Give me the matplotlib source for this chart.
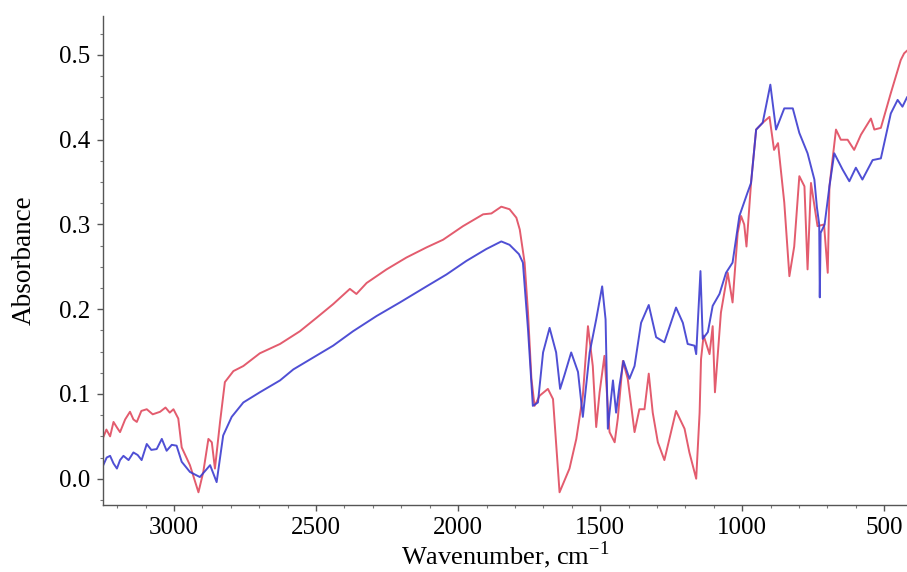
import numpy as np
import matplotlib as mpl
mpl.use("Agg")
import matplotlib.pyplot as plt
from matplotlib.ticker import MultipleLocator

# spectrum (wavenumber, absorbance)
red_wn = [3249, 3238, 3225, 3213, 3200, 3190, 3172, 3155, 3143, 3131, 3115, 3096, 3075,
          3049, 3030, 3015, 3002, 2985, 2973, 2944, 2914, 2897,
          2879, 2867, 2856, 2838, 2821, 2791, 2756, 2698, 2627, 2557, 2498, 2440, 2381,
          2358, 2322, 2252, 2182, 2111, 2053, 1983, 1912, 1883, 1848, 1819, 1795, 1783,
          1766, 1754, 1742, 1731, 1713, 1684, 1666, 1643, 1608, 1584, 1561, 1543, 1526,
          1514, 1502, 1485, 1467, 1449, 1438, 1420, 1403, 1379, 1362, 1344, 1329, 1315,
          1297, 1274, 1233, 1203, 1186, 1162, 1150, 1145, 1136, 1115, 1104, 1096, 1075,
          1051, 1034, 1016, 1004, 993, 985, 969, 951, 928, 904, 888, 874, 852, 834, 817,
          799, 781, 770, 758, 735, 712, 699, 693, 670, 653, 629, 606, 582, 547, 535, 512,
          477, 442, 430, 420]
red_abs = [0.049, 0.058, 0.050, 0.067, 0.060, 0.055, 0.070, 0.079, 0.070, 0.067, 0.080, 0.082, 0.076,
           0.079, 0.084, 0.078, 0.082, 0.071, 0.037, 0.016, -0.016, 0.008,
           0.047, 0.043, 0.012, 0.067, 0.114, 0.127, 0.133, 0.148, 0.159, 0.174, 0.190, 0.206, 0.224,
           0.218, 0.231, 0.247, 0.261, 0.273, 0.282, 0.298, 0.312, 0.313, 0.321, 0.318, 0.308, 0.294,
           0.255, 0.196, 0.118, 0.086, 0.098, 0.106, 0.094, -0.016, 0.012, 0.047, 0.098, 0.180, 0.133,
           0.061, 0.102, 0.145, 0.055, 0.043, 0.071, 0.139, 0.118, 0.055, 0.082, 0.082, 0.124, 0.078,
           0.043, 0.022, 0.080, 0.059, 0.031, 0.000, 0.078, 0.141, 0.169, 0.147, 0.180, 0.102, 0.196,
           0.243, 0.208, 0.290, 0.310, 0.300, 0.274, 0.349, 0.412, 0.420, 0.427, 0.388, 0.396, 0.326, 0.239, 0.274,
           0.357, 0.345, 0.247, 0.349, 0.298, 0.300, 0.243, 0.345, 0.412, 0.400, 0.400, 0.388, 0.406, 0.425, 0.412, 0.414,
           0.455, 0.494, 0.502, 0.505]

blue_wn = [3249, 3237, 3225, 3213, 3201, 3190, 3178, 3160, 3143, 3128, 3114, 3096, 3080,
           3061, 3043, 3026, 3008, 2991, 2973, 2944,
           2909, 2873, 2850, 2827, 2797, 2756, 2698, 2627, 2580, 2510, 2440, 2370, 2287,
           2205, 2111, 2041, 1971, 1901, 1848, 1819, 1786, 1772, 1754, 1737, 1719, 1701,
           1678, 1655, 1641, 1626, 1602, 1578, 1561, 1537, 1514, 1493, 1481, 1473, 1455,
           1444, 1432, 1418, 1397, 1379, 1356, 1329, 1303, 1274, 1233, 1209, 1192, 1168,
           1162, 1147, 1139, 1121, 1104, 1080, 1057, 1034, 1010, 982, 969, 951, 928, 901,
           881, 852, 822, 799, 770, 746, 737, 729, 727, 724, 710, 693, 676, 647, 623, 600,
           577, 541, 512, 477, 453, 436, 420]
blue_abs = [0.016, 0.025, 0.027, 0.018, 0.012, 0.022, 0.027, 0.022, 0.031, 0.028, 0.022, 0.041, 0.034,
            0.035, 0.047, 0.033, 0.040, 0.039, 0.020, 0.008,
            0.002, 0.016, -0.004, 0.051, 0.073, 0.090, 0.102, 0.116, 0.129, 0.143, 0.157, 0.174, 0.192,
            0.208, 0.227, 0.241, 0.257, 0.271, 0.280, 0.276, 0.265, 0.255, 0.176, 0.086, 0.090, 0.149,
            0.178, 0.149, 0.106, 0.122, 0.149, 0.126, 0.073, 0.149, 0.188, 0.227, 0.188, 0.059, 0.116,
            0.078, 0.110, 0.139, 0.118, 0.133, 0.184, 0.205, 0.167, 0.161, 0.202, 0.184, 0.159, 0.157,
            0.147, 0.245, 0.165, 0.173, 0.204, 0.218, 0.243, 0.255, 0.310, 0.337, 0.349, 0.412, 0.420, 0.465,
            0.412, 0.437, 0.437, 0.408, 0.384, 0.353, 0.320, 0.300, 0.214, 0.290, 0.300, 0.345, 0.384, 0.365, 0.351, 0.367,
            0.353, 0.376, 0.378, 0.431, 0.447, 0.439, 0.450]

x_ticks = [3000, 2500, 2000, 1500, 1000, 500]
y_ticks = [0.0, 0.1, 0.2, 0.3, 0.4, 0.5]

plt.rcParams['font.family'] = ['Liberation Serif', 'DejaVu Serif']
plt.rcParams['font.size'] = 18
plt.rcParams['axes.unicode_minus'] = False

fig = plt.figure(figsize=(9.07, 5.72), dpi=100)
fig.patch.set_facecolor('white')
ax = fig.add_axes([103/907, 67/572, 804/907, 489/572])

ax.plot(red_wn, red_abs, color='#e04a5e', linewidth=1.4, alpha=0.9)
ax.plot(blue_wn, blue_abs, color='#3c3cd0', linewidth=1.4, alpha=0.9)

ax.set_xlim(3250, 420)
ax.set_ylim(-0.031, 0.546)
ax.set_xticks(x_ticks)
ax.set_yticks(y_ticks)
ax.set_yticklabels(["{:.1f}".format(v) for v in y_ticks])
ax.xaxis.set_minor_locator(MultipleLocator(100))
ax.yaxis.set_minor_locator(MultipleLocator(0.025))

for side in ['top', 'right']:
    ax.spines[side].set_visible(False)
for side in ['left', 'bottom']:
    ax.spines[side].set_color('#555555')
    ax.spines[side].set_linewidth(1.0)

ax.tick_params(which='major', direction='out', length=4, width=1, color='#555555', pad=5)
ax.tick_params(which='minor', direction='out', length=2, width=0.8, color='#777777')

ax.set_xlabel("Wavenumber, cm$^{\\mathregular{-1}}$", fontsize=19, labelpad=0)
ax.set_ylabel("Absorbance", fontsize=19.5, labelpad=16)

fig.savefig("out.png", dpi=100)
